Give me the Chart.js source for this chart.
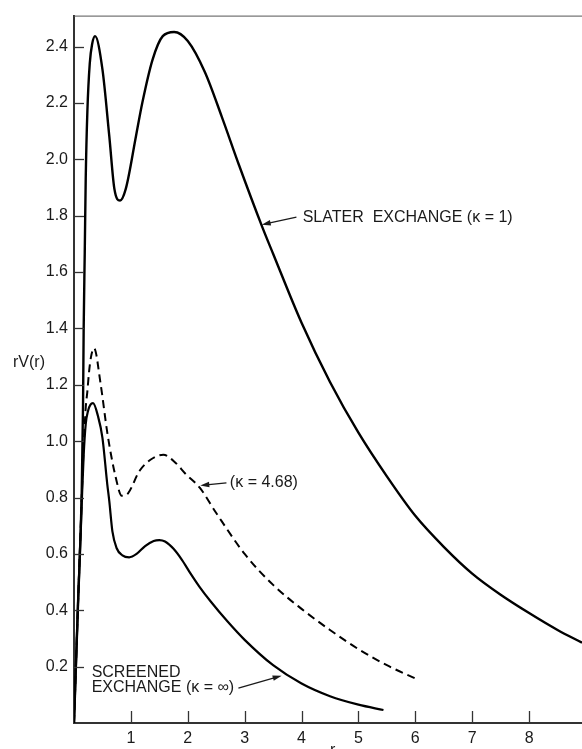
<!DOCTYPE html>
<html>
<head>
<meta charset="utf-8">
<title>rV(r) exchange potentials</title>
<style>
  html, body { margin: 0; padding: 0; background: #fff; }
  canvas { display: block; }
</style>
<script src="https://cdn.jsdelivr.net/npm/chart.js"></script>
</head>
<body>
<canvas id="potChart" width="582" height="749"></canvas>
<script>
// Slater exchange (kappa = 1)
const slaterR = [0, 0.07, 0.136, 0.159, 0.17, 0.189, 0.206, 0.235, 0.277, 0.32, 0.37, 0.5, 0.62, 0.71, 0.81, 0.91, 1.09, 1.2, 1.38, 1.56, 1.76, 2.0, 2.3, 2.6, 2.9, 3.3, 3.5, 4.0, 4.5, 5.0, 5.5, 6.0, 6.5, 7.0, 7.5, 8.0, 8.5, 8.93];
const slaterV = [0, 0.42, 0.82, 1.13, 1.40, 1.67, 1.93, 2.17, 2.34, 2.41, 2.437, 2.319, 2.083, 1.895, 1.854, 1.895, 2.083, 2.2, 2.353, 2.437, 2.452, 2.42, 2.31, 2.15, 1.98, 1.765, 1.665, 1.42, 1.21, 1.03, 0.875, 0.735, 0.625, 0.53, 0.455, 0.39, 0.33, 0.285];

// kappa = 4.68 (dashed)
const midR = [0, 0.07, 0.136, 0.17, 0.206, 0.235, 0.265, 0.3, 0.353, 0.47, 0.59, 0.735, 0.84, 0.95, 1.15, 1.35, 1.57, 1.75, 1.97, 2.21, 2.5, 3.0, 3.5, 4.0, 4.5, 5.0, 5.5, 6.0];
const midV = [0, 0.42, 0.8, 0.98, 1.118, 1.177, 1.247, 1.3, 1.33, 1.2, 1.024, 0.87, 0.806, 0.815, 0.894, 0.935, 0.952, 0.93, 0.882, 0.835, 0.745, 0.60, 0.49, 0.405, 0.33, 0.262, 0.205, 0.158];

// Screened exchange (kappa = infinity)
const screenR = [0, 0.07, 0.136, 0.17, 0.206, 0.25, 0.29, 0.335, 0.42, 0.5, 0.585, 0.62, 0.675, 0.75, 0.85, 0.97, 1.1, 1.25, 1.4, 1.5, 1.6, 1.75, 1.9, 2.05, 2.2, 2.4, 2.7, 3.0, 3.5, 4.0, 4.5, 5.0, 5.44];
const screenV = [0, 0.42, 0.78, 0.95, 1.06, 1.11, 1.13, 1.135, 1.09, 1.012, 0.847, 0.788, 0.68, 0.62, 0.595, 0.588, 0.60, 0.628, 0.646, 0.649, 0.644, 0.618, 0.578, 0.53, 0.485, 0.432, 0.36, 0.295, 0.205, 0.14, 0.095, 0.065, 0.046];

const xTicks = [1, 2, 3, 4, 5, 6, 7, 8];
const yTicks = [0.2, 0.4, 0.6, 0.8, 1.0, 1.2, 1.4, 1.6, 1.8, 2.0, 2.2, 2.4];

const FONT = '"Liberation Sans", "DejaVu Sans", sans-serif';
const INK = '#1a1a1a';

function pts(xs, ys) {
  return xs.map((v, i) => ({ x: v, y: ys[i] }));
}

function arrow(ctx, x1, y1, x2, y2) {
  const ang = Math.atan2(y2 - y1, x2 - x1);
  ctx.beginPath();
  ctx.moveTo(x1, y1);
  ctx.lineTo(x2 - 6 * Math.cos(ang), y2 - 6 * Math.sin(ang));
  ctx.stroke();
  ctx.beginPath();
  ctx.moveTo(x2, y2);
  ctx.lineTo(x2 - 9 * Math.cos(ang) + 2.8 * Math.sin(ang), y2 - 9 * Math.sin(ang) - 2.8 * Math.cos(ang));
  ctx.lineTo(x2 - 9 * Math.cos(ang) - 2.8 * Math.sin(ang), y2 - 9 * Math.sin(ang) + 2.8 * Math.cos(ang));
  ctx.closePath();
  ctx.fill();
}

// frame, inward ticks, axis titles and curve labels
const decor = {
  id: 'decor',
  afterDraw(chart) {
    const { ctx, chartArea: a, scales: { x, y } } = chart;
    ctx.save();
    ctx.strokeStyle = '#555';
    ctx.lineWidth = 1;
    ctx.beginPath();
    ctx.moveTo(a.left, a.top + 0.5);
    ctx.lineTo(a.right, a.top + 0.5);
    ctx.stroke();

    ctx.strokeStyle = '#333';
    ctx.lineWidth = 1.3;
    yTicks.forEach(v => {
      const py = Math.round(y.getPixelForValue(v)) + 0.5;
      ctx.beginPath();
      ctx.moveTo(a.left, py);
      ctx.lineTo(a.left + 10, py);
      ctx.stroke();
    });
    xTicks.forEach(v => {
      const px = Math.round(x.getPixelForValue(v)) + 0.5;
      ctx.beginPath();
      ctx.moveTo(px, a.bottom);
      ctx.lineTo(px, a.bottom - 12);
      ctx.stroke();
    });

    ctx.fillStyle = INK;
    ctx.strokeStyle = INK;
    ctx.font = '16px ' + FONT;
    ctx.textBaseline = 'middle';
    ctx.textAlign = 'left';
    ctx.fillText('rV(r)', a.left - 61, y.getPixelForValue(1.28));
    ctx.textBaseline = 'top';
    ctx.fillText('r', x.getPixelForValue(4.5), a.bottom + 20);

    ctx.textBaseline = 'middle';
    ctx.fillText('SLATER  EXCHANGE (\u03ba = 1)', x.getPixelForValue(4.02), y.getPixelForValue(1.795));
    ctx.fillText('(\u03ba = 4.68)', x.getPixelForValue(2.74), y.getPixelForValue(0.853));
    ctx.fillText('SCREENED', x.getPixelForValue(0.31), y.getPixelForValue(0.179));
    ctx.fillText('EXCHANGE (\u03ba = \u221e)', x.getPixelForValue(0.31), y.getPixelForValue(0.125));

    ctx.lineWidth = 1.2;
    arrow(ctx, x.getPixelForValue(3.91), y.getPixelForValue(1.795), x.getPixelForValue(3.30), y.getPixelForValue(1.768));
    arrow(ctx, x.getPixelForValue(2.68), y.getPixelForValue(0.852), x.getPixelForValue(2.22), y.getPixelForValue(0.843));
    arrow(ctx, x.getPixelForValue(2.89), y.getPixelForValue(0.124), x.getPixelForValue(3.65), y.getPixelForValue(0.168));
    ctx.restore();
  }
};

const ctx = document.getElementById('potChart').getContext('2d');
const chart = new Chart(ctx, {
  type: 'scatter',
  data: {
    datasets: [
      { label: 'Slater exchange (\u03ba=1)', data: pts(slaterR, slaterV), borderColor: '#000', borderWidth: 2.4 },
      { label: '\u03ba=4.68', data: pts(midR, midV), borderColor: '#000', borderWidth: 2, borderDash: [8, 5] },
      { label: 'Screened exchange (\u03ba=\u221e)', data: pts(screenR, screenV), borderColor: '#000', borderWidth: 2.2 }
    ]
  },
  options: {
    responsive: false,
    animation: false,
    devicePixelRatio: 1,
    showLine: true,
    layout: { padding: { top: 12, right: 0, left: 0, bottom: 0 } },
    elements: {
      point: { radius: 0, hoverRadius: 0 },
      line: { cubicInterpolationMode: 'monotone', fill: false }
    },
    plugins: {
      legend: { display: false },
      tooltip: { enabled: false }
    },
    scales: {
      x: {
        type: 'linear',
        min: 0,
        max: 8.93,
        grid: { display: true, drawOnChartArea: false, drawTicks: false },
        border: { display: true, color: '#333', width: 2 },
        afterFit: s => { s.height = 26; },
        ticks: {
          stepSize: 1,
          includeBounds: false,
          padding: 6,
          color: INK,
          font: { family: FONT, size: 16 },
          callback: v => (xTicks.includes(v) ? String(v) : '')
        }
      },
      y: {
        min: 0,
        max: 2.51,
        grid: { display: true, drawOnChartArea: false, drawTicks: false },
        border: { display: true, color: '#333', width: 2 },
        afterFit: s => { s.width = 74; },
        ticks: {
          stepSize: 0.2,
          includeBounds: false,
          padding: 6,
          color: INK,
          font: { family: FONT, size: 16 },
          callback: v => (v > 0.01 ? v.toFixed(1) : '')
        }
      }
    }
  },
  plugins: [decor]
});
</script>
</body>
</html>
